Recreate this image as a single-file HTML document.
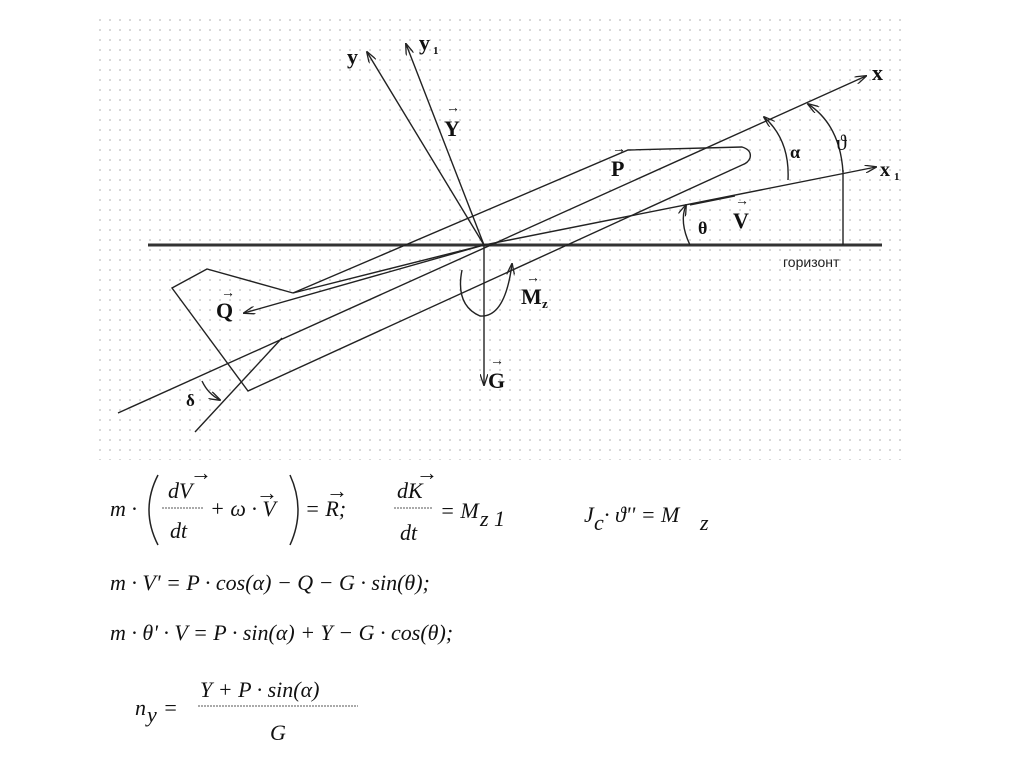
<!DOCTYPE html>
<html><head><meta charset="utf-8"><style>
html,body{margin:0;padding:0;background:#fff;}
body{width:1024px;height:767px;overflow:hidden;position:relative;}
#dots{position:absolute;left:95px;top:15px;width:810px;height:445px;
background-image:radial-gradient(circle,#d0d0d0 0.8px,transparent 1.2px);background-size:10px 10px;}
svg{position:absolute;left:0;top:0;}
.l{stroke:#222;stroke-width:1.4;fill:none;}
.b{font-family:"Liberation Serif",serif;font-weight:bold;fill:#111;}
.e{font-family:"Liberation Serif",serif;font-style:italic;fill:#111;font-size:22px;}
.n{font-family:"Liberation Serif",serif;fill:#111;font-size:22px;}
</style></head><body>
<div id="dots"></div>
<svg width="1024" height="767" viewBox="0 0 1024 767">
<defs><marker id="a" markerWidth="12" markerHeight="8" refX="11" refY="4" orient="auto" markerUnits="userSpaceOnUse"><path d="M0,0 L12,4 L0,8" fill="none" stroke="#222" stroke-width="1.3"/></marker></defs>
<line x1="148" y1="245" x2="882" y2="245" stroke="#333" stroke-width="3"/>
<text x="783" y="267" font-family="Liberation Sans,sans-serif" font-size="14" fill="#222">горизонт</text>
<line class="l" x1="118" y1="413" x2="866" y2="76" marker-end="url(#a)"/>
<text class="b" x="872" y="80" font-size="22">x</text>
<path class="l" d="M293,293 L628,150 L742,147 Q752,150 750,158 Q748,163 742,165 L248,391 L172,288 L207,269 L293,293"/>
<line class="l" x1="195" y1="432" x2="282" y2="338"/>
<path class="l" d="M202,381 Q208,394 220,400" marker-end="url(#a)"/>
<text class="b" x="186" y="406" font-size="17">δ</text>
<line class="l" x1="484" y1="245" x2="244" y2="313" marker-end="url(#a)"/>
<line class="l" x1="484" y1="245" x2="293" y2="293"/>
<text class="b" x="216" y="318" font-size="22">Q</text><text class="b" x="221" y="297" font-size="14">→</text>
<line class="l" x1="484" y1="245" x2="876" y2="167" marker-end="url(#a)"/>
<line class="l" x1="690" y1="205" x2="735" y2="196"/>
<text class="b" x="733" y="228" font-size="22">V</text><text class="b" x="735" y="205" font-size="14">→</text>
<text class="b" x="880" y="176" font-size="20">x</text><text class="b" x="894" y="180" font-size="11">1</text>
<line class="l" x1="484" y1="245" x2="367" y2="52" marker-end="url(#a)"/>
<text class="b" x="347" y="64" font-size="22">y</text>
<line class="l" x1="484" y1="245" x2="406" y2="44" marker-end="url(#a)"/>
<text class="b" x="419" y="50" font-size="22">y</text><text class="b" x="433" y="54" font-size="11">1</text>
<text class="b" x="444" y="136" font-size="22">Y</text><text class="b" x="446" y="112" font-size="14">→</text>
<text class="b" x="611" y="176" font-size="22">P</text><text class="b" x="612" y="153" font-size="14">→</text>
<line class="l" x1="484" y1="245" x2="484" y2="385" marker-end="url(#a)"/>
<text class="b" x="488" y="388" font-size="22">G</text><text class="b" x="490" y="365" font-size="14">→</text>
<path class="l" d="M462,270 Q455,305 480,316 Q505,318 512,264" marker-end="url(#a)"/>
<text class="b" x="521" y="304" font-size="22">M</text><text class="b" x="542" y="308" font-size="13">z</text><text class="b" x="526" y="282" font-size="14">→</text>
<path class="l" d="M690,245 Q679,222 686,205" marker-end="url(#a)"/>
<text class="b" x="698" y="234" font-size="18">θ</text>
<path class="l" d="M788,180 Q790,140 764,117" marker-end="url(#a)"/>
<text class="b" x="790" y="158" font-size="18">α</text>
<line class="l" x1="843" y1="245" x2="843" y2="170"/>
<path class="l" d="M843,172 Q840,125 808,104" marker-end="url(#a)"/>
<text class="n" x="836" y="150" font-size="20">ϑ</text>
<text class="e" x="110" y="516">m ·</text>
<path d="M158,475 Q140,510 158,545" stroke="#222" stroke-width="1.5" fill="none"/>
<text class="e" x="168" y="498">dV</text><text class="n" x="190" y="480" font-size="12">→</text>
<line x1="162" y1="508" x2="204" y2="508" stroke="#555" stroke-width="1" stroke-dasharray="2,1"/>
<text class="e" x="170" y="538">dt</text>
<text class="e" x="210" y="516">+ ω · V</text><text class="n" x="256" y="500" font-size="12">→</text>
<path d="M290,475 Q306,510 290,545" stroke="#222" stroke-width="1.5" fill="none"/>
<text class="e" x="305" y="516">= R;</text><text class="n" x="326" y="498" font-size="12">→</text>
<text class="e" x="397" y="498">dK</text><text class="n" x="416" y="480" font-size="12">→</text>
<line x1="394" y1="508" x2="432" y2="508" stroke="#555" stroke-width="1" stroke-dasharray="2,1"/>
<text class="e" x="400" y="540">dt</text>
<text class="e" x="440" y="518">= M</text><text class="e" x="480" y="526" font-size="12">z 1</text>
<text class="e" x="584" y="522">J</text><text class="e" x="594" y="530" font-size="12">c</text>
<text class="e" x="604" y="522">· ϑ'' = M</text><text class="e" x="700" y="530" font-size="12">z</text>
<text class="e" x="110" y="590">m · V' = P · cos(α) − Q − G · sin(θ);</text>
<text class="e" x="110" y="640">m · θ' · V = P · sin(α) + Y − G · cos(θ);</text>
<text class="e" x="135" y="715">n</text><text class="e" x="147" y="722" font-size="12">y</text>
<text class="e" x="163" y="715">=</text>
<text class="e" x="200" y="697">Y + P · sin(α)</text>
<line x1="198" y1="706" x2="358" y2="706" stroke="#555" stroke-width="1" stroke-dasharray="2,1"/>
<text class="e" x="270" y="740">G</text>
</svg>
</body></html>
